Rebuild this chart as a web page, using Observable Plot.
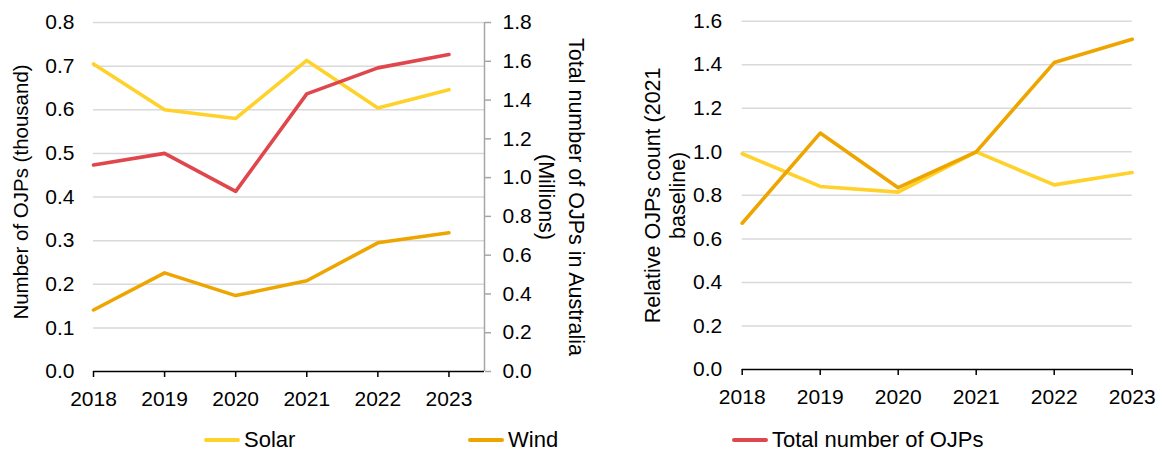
<!DOCTYPE html>
<html>
<head>
<meta charset="utf-8">
<script src="https://cdn.jsdelivr.net/npm/d3@7"></script>
<script src="https://cdn.jsdelivr.net/npm/@observablehq/plot@0.6"></script>
<style>
  body { margin: 0; background: #fff; font-family: "Liberation Sans", Arial, sans-serif; }
  #wrap { position: relative; width: 1162px; height: 452px; }
  #charts { display: flex; }
  #legend { position: absolute; left: 204px; top: 428px; display: flex; font-size: 22px; line-height: 24px; color: #000; }
  .item { width: 264px; display: flex; align-items: center; }
  .sw { width: 36px; height: 4px; border-radius: 2px; margin-right: 4px; }
</style>
</head>
<body>
<div id="wrap">
  <div id="charts"></div>
  <div id="legend"></div>
</div>
<script>
const years = [2018, 2019, 2020, 2021, 2022, 2023];
const solarJobs = [0.705, 0.600, 0.580, 0.713, 0.604, 0.646];
const windJobs = [0.141, 0.226, 0.174, 0.208, 0.295, 0.318];
const totalJobs = [1.065, 1.125, 0.929, 1.432, 1.566, 1.635];
const solarRelative = [0.991, 0.841, 0.815, 1.0, 0.848, 0.905];
const windRelative = [0.672, 1.086, 0.835, 1.0, 1.410, 1.517];

const leftTicks = [0, 0.1, 0.2, 0.3, 0.4, 0.5, 0.6, 0.7, 0.8];
const rightTicks = [0, 0.2, 0.4, 0.6, 0.8, 1.0, 1.2, 1.4, 1.6, 1.8];
const relTicks = [0, 0.2, 0.4, 0.6, 0.8, 1.0, 1.2, 1.4, 1.6];

const seriesNames = ["Solar", "Wind", "Total number of OJPs"];
const seriesColors = ["#FFD22B", "#EEA500", "#E0474C"];

const leftMax = 0.8, rightMax = 1.8;
const k = leftMax / rightMax;

const font = '"Liberation Sans", Arial, sans-serif';
const style = { fontSize: "21px", fontFamily: font, color: "#000", background: "transparent", overflow: "visible" };

const rowsOf = (vals) => years.map((y, i) => ({ year: y, value: vals[i] }));
const lineOpts = (color) => ({ x: "year", y: "value", stroke: color, strokeWidth: 3.6, strokeLinecap: "round", strokeLinejoin: "round" });

const xDomainLeft = [2018, 2023.5];

const left = Plot.plot({
  width: 620, height: 412,
  marginLeft: 93, marginRight: 136, marginTop: 22, marginBottom: 41,
  style,
  x: { type: "linear", domain: xDomainLeft },
  y: { domain: [0, leftMax] },
  marks: [
    Plot.gridY(leftTicks.slice(1), { stroke: "#d9d9d9", strokeOpacity: 1, strokeWidth: 1.5 }),
    Plot.axisY(leftTicks, { tickSize: 0, tickPadding: 19, tickFormat: d => d.toFixed(1), label: null }),
    Plot.axisY(rightTicks.map(v => v * k), { anchor: "right", tickSize: 6, tickPadding: 12, stroke: "#a6a6a6", strokeWidth: 1.5, tickFormat: v => (v / k).toFixed(1), label: null }),
    Plot.ruleX([xDomainLeft[1]], { stroke: "#a6a6a6", strokeWidth: 1.5 }),
    Plot.ruleY([0], { stroke: "#000", strokeWidth: 1.5 }),
    Plot.axisX(years, { tickSize: 6, tickPadding: 14, strokeWidth: 1.5, tickFormat: "d", label: null }),
    Plot.line(rowsOf(solarJobs), lineOpts(seriesColors[0])),
    Plot.line(rowsOf(windJobs), lineOpts(seriesColors[1])),
    Plot.line(rowsOf(totalJobs.map(v => v * k)), lineOpts(seriesColors[2])),
    Plot.text(["Number of OJPs (thousand)"], { frameAnchor: "left", textAnchor: "middle", lineAnchor: "middle", rotate: -90, dx: -72, dy: -5, fontSize: 20.5, fill: "#000" }),
    Plot.text(["Total number of OJPs in Australia\n(Millions)"], { frameAnchor: "right", textAnchor: "middle", lineAnchor: "middle", rotate: 90, dx: 79, lineHeight: 1.4, fontSize: 21.5, fill: "#000" })
  ]
});

const right = Plot.plot({
  width: 542, height: 412,
  marginLeft: 121.7, marginRight: 30.3, marginTop: 20.7, marginBottom: 43,
  style,
  x: { type: "linear", domain: [years[0], years[years.length - 1]] },
  y: { domain: [0, 1.6] },
  marks: [
    Plot.gridY(relTicks.slice(1), { stroke: "#d9d9d9", strokeOpacity: 1, strokeWidth: 1.5 }),
    Plot.axisY(relTicks, { tickSize: 0, tickPadding: 20, tickFormat: d => d.toFixed(1), label: null }),
    Plot.ruleY([0], { stroke: "#000", strokeWidth: 1.5 }),
    Plot.axisX(years, { tickSize: 6, tickPadding: 14, strokeWidth: 1.5, tickFormat: "d", label: null }),
    Plot.line(rowsOf(solarRelative), lineOpts(seriesColors[0])),
    Plot.line(rowsOf(windRelative), lineOpts(seriesColors[1])),
    Plot.text(["Relative OJPs count (2021\nbaseline)"], { frameAnchor: "left", textAnchor: "middle", lineAnchor: "middle", rotate: -90, dx: -78, lineHeight: 1.2, fontSize: 21.5, fill: "#000" })
  ]
});

document.getElementById("charts").append(left, right);

const legend = document.getElementById("legend");
seriesNames.forEach((name, i) => {
  const item = document.createElement("div");
  item.className = "item";
  const sw = document.createElement("span");
  sw.className = "sw";
  sw.style.background = seriesColors[i];
  const label = document.createElement("span");
  label.textContent = name;
  item.append(sw, label);
  legend.append(item);
});
</script>
</body>
</html>
